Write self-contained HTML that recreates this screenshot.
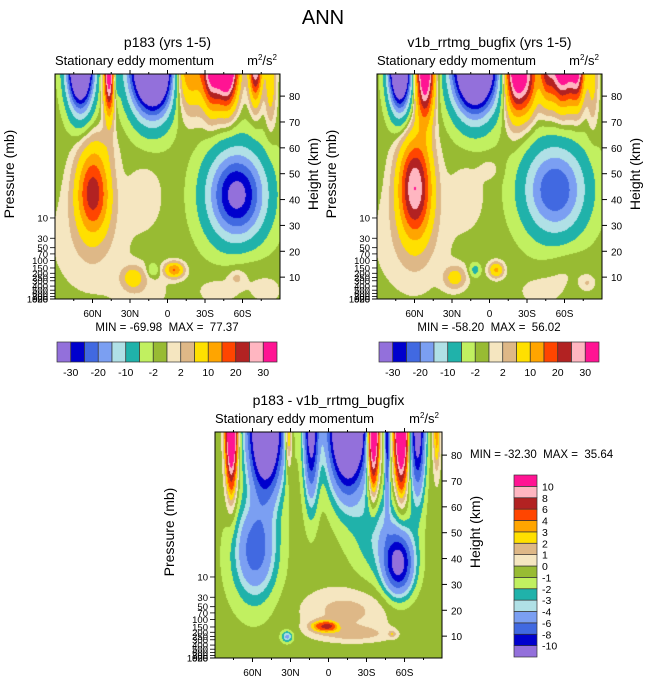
<!DOCTYPE html>
<html><head><meta charset="utf-8">
<style>
html,body{margin:0;padding:0;background:#fff;width:647px;height:683px;overflow:hidden}
#wrap{position:relative;width:647px;height:683px}
canvas{position:absolute}
svg{position:absolute;left:0;top:0}
text{font-family:"Liberation Sans",sans-serif;fill:#000;white-space:pre}
</style></head>
<body>
<div id="wrap">
<canvas id="c1" width="225" height="225" style="left:55px;top:74px"></canvas>
<canvas id="c2" width="225" height="225" style="left:377px;top:74px"></canvas>
<canvas id="c3" width="227" height="226" style="left:215px;top:432px"></canvas>
<svg id="ov" width="647" height="683"></svg>
</div>
<script>
// ---- data ----
const latTicks=[60,30,0,-30,-60];
const latTickLabels=["60N","30N","0","30S","60S"];
const hgtTicks=[10,20,30,40,50,60,70,80];
const presTicks=[10,30,50,70,100,150,200,250,300,400,500,600,700,850,925,1000];
const levelsTop=[-30,-25,-20,-15,-10,-5,-2,0,2,5,10,15,20,25,30];
const levelLabelsTop=["-30","-20","-10","-2","2","10","20","30"];
const levelsDiff=[-10,-8,-6,-4,-3,-2,-1,0,1,2,3,4,6,8,10];
const colors=["#9370db","#0000cd","#4169e1","#7b9ff2","#b0e0e6","#20b2aa","#c1f060","#98bb33","#f5e6c0","#deb887","#ffe000","#ffa500","#ff4500","#b22222","#ffb6c1","#ff1493"];
// panel 1 components (lat N+, height km, amplitude, sigma lat, sigma height)
const p1Lat=[70,47,42,12,-15,-35,-47,-70,-82,60,-55,62,18,-60,28,12,-5,-55,55,20,-40,-80];
const p1Hgt=[92,90,88,92,92,92,94,94,88,43,42,25,42,15,10,13,13,10,60,5,5,5];
const p1Amp=[-60,40,-10,-70,20,30,55,35,10,23,-32,2.5,2.2,1.5,8,-5,16,3,2.2,2,1.6,1.5];
const p1SLat=[7,3,2,12,11,5,6,3.5,3,9,16,22,10,12,6,3,5,4,10,15,15,10];
const p1SH=[11,11,6,12,11,11,11,10,12,11,12,15,9,6,3,1.8,2,2,6,6,5,5];
// panel 2 components
const p2Lat=[72,52,12,-20,-30,-45,-58,-70,-82,60,-52,62,18,-60,28,12,-5,-78,0,-40];
const p2Hgt=[92,92,92,92,88,92,94,92,88,45,44,25,42,15,10,13,13,8,52,5];
const p2Amp=[-60,45,-65,38,22,18,45,28,8,30,-24,2.5,2.2,1.5,8,-6,12,3,2,1.6];
const p2SLat=[6,5,12,6,6,4,7,4,3,9,17,22,10,12,6,3,4,4,6,15];
const p2SH=[11,13,12,12,10,10,11,10,12,13,12,15,9,6,3,1.8,2,2,3,5];
// difference panel components
const p3Lat=[77,50,32,14,-15,-35,-46,-57,-70,-85,58,-55,-42,-5,5,-20,0,33,-50,60,-30];
const p3Hgt=[92,92,90,92,92,92,90,94,90,88,44,38,50,20,14,11,14,10,11,40,20];
const p3Amp=[20,-20,6,-12,-22,20,-9,22,-12,4,-5,-10,-3,1.4,4.5,1.8,3,-4,2,-1.8,0.9];
const p3SLat=[3,9,2,4,10,3,1.5,3.5,4,2,10,8,15,20,7,20,4,3,2,15,20];
const p3SH=[15,17,10,18,16,15,18,16,16,10,11,8,12,6,1.5,2,1,1.5,1,15,6];
</script>
<script>
const NS="http://www.w3.org/2000/svg";
const ov=document.getElementById('ov');
function el(tag,attrs,txt){const e=document.createElementNS(NS,tag);for(const k in attrs)e.setAttribute(k,attrs[k]);if(txt!==undefined)e.textContent=txt;ov.appendChild(e);return e;}
const KM=2.586;
function field(lat,h,L,H,A,SL,SH,base){let v=base;for(let i=0;i<L.length;i++){const dx=(lat-L[i])/SL[i],dy=(h-H[i])/SH[i];v+=A[i]*Math.exp(-0.5*(dx*dx+dy*dy));}return v;}
function colorIdx(v,lev){let k=0;while(k<lev.length&&v>=lev[k])k++;return k;}
function hex(c){return [parseInt(c.substr(1,2),16),parseInt(c.substr(3,2),16),parseInt(c.substr(5,2),16)];}
const rgb=colors.map(hex);
function drawField(id,W,Hh,L,H,A,SL,SH,lev,pxDeg,base){
  const cv=document.getElementById(id),ctx=cv.getContext('2d');
  const img=ctx.createImageData(W,Hh);
  const cx=W/2;
  for(let y=0;y<Hh;y++){const h=(Hh+4-y)/KM;
    for(let x=0;x<W;x++){const lat=(cx-x)/pxDeg;
      const v=field(lat,h,L,H,A,SL,SH,base);
      const c=rgb[colorIdx(v,lev)];const o=(y*W+x)*4;
      img.data[o]=c[0];img.data[o+1]=c[1];img.data[o+2]=c[2];img.data[o+3]=255;}}
  ctx.putImageData(img,0,0);
}
function axes(x0,y0,W,Hh,pxDeg,title,name){
  const cx=x0+W/2;
  el('rect',{x:x0,y:y0,width:W,height:Hh,fill:'none',stroke:'#000','stroke-width':1,});
  latTicks.forEach((t,i)=>{const x=cx-t*pxDeg;
    el('line',{x1:x,y1:y0+Hh,x2:x,y2:y0+Hh+4,stroke:'#000'});
    el('line',{x1:x,y1:y0,x2:x,y2:y0-4,stroke:'#000'});
    const t2=el('text',{x:x,y:y0+Hh+18,'text-anchor':'middle','font-size':10},latTickLabels[i]);
    });
  [75,45,15,-15,-45,-75].forEach(t=>{const x=cx-t*pxDeg;el('line',{x1:x,y1:y0,x2:x,y2:y0-2,stroke:'#000'});el('line',{x1:x,y1:y0+Hh,x2:x,y2:y0+Hh+2,stroke:'#000'});});
  hgtTicks.forEach(h=>{const y=y0+Hh+4-h*KM;
    el('line',{x1:x0+W,y1:y,x2:x0+W+5,y2:y,stroke:'#000'});
    const t=el('text',{x:x0+W+9,y:y+4,'font-size':10},String(h));
    });
  presTicks.forEach(p=>{const h=7.14*Math.log(1000/p);let y=y0+Hh+4-h*KM;if(y>y0+Hh)y=y0+Hh;
    el('line',{x1:x0,y1:y,x2:x0-5,y2:y,stroke:'#000','stroke-width':0.8});
    const t=el('text',{x:x0-7,y:y+3.5,'text-anchor':'end','font-size':9.5},String(p));
    });
  const tt=el('text',{x:cx,y:y0-27,'text-anchor':'middle','font-size':14},title);
  
  const st=el('text',{x:x0,y:y0-9,'font-size':13},'Stationary eddy momentum');
  
  const un=el('text',{x:x0+W-3,y:y0-9,'text-anchor':'end','font-size':13});
  un.innerHTML='m<tspan dy="-5" font-size="8">2</tspan><tspan dy="5">/s</tspan><tspan dy="-5" font-size="8">2</tspan>';
  
  const pl=el('text',{x:0,y:0,'text-anchor':'middle','font-size':14,transform:`translate(${x0-41},${y0+100}) rotate(-90)`},'Pressure (mb)');
  
  const hl=el('text',{x:0,y:0,'text-anchor':'middle','font-size':14,transform:`translate(${x0+W+38},${y0+100}) rotate(-90)`},'Height (km)');
  
}
drawField('c1',225,225,p1Lat,p1Hgt,p1Amp,p1SLat,p1SH,levelsTop,1.25,-1);
drawField('c2',225,225,p2Lat,p2Hgt,p2Amp,p2SLat,p2SH,levelsTop,1.25,-1);
drawField('c3',227,226,p3Lat,p3Hgt,p3Amp,p3SLat,p3SH,levelsDiff,1.267,-0.5);
axes(55,74,225,225,1.25,'p183 (yrs 1-5)','panel-p183');
axes(377,74,225,225,1.25,'v1b_rrtmg_bugfix (yrs 1-5)','panel-v1b');
axes(215,432,227,226,1.267,'p183 - v1b_rrtmg_bugfix','panel-diff');
const ann=el('text',{x:323,y:24,'text-anchor':'middle','font-size':20},'ANN');

[[167,'MIN = -69.98  MAX =  77.37'],[489,'MIN = -58.20  MAX =  56.02']].forEach(([x,s])=>{
  const t=el('text',{x:x,y:331,'text-anchor':'middle','font-size':11.5},s);
  });
const mm=el('text',{x:470,y:458,'font-size':11.5},'MIN = -32.30  MAX =  35.64');

function hbar(x0,name){const w=220/16;
  colors.forEach((c,i)=>{const r=el('rect',{x:x0+i*w,y:342,width:w,height:20,fill:c,stroke:'#333','stroke-width':0.7});
    });
  levelLabelsTop.forEach((s,i)=>{const t=el('text',{x:x0+(1+2*i)*w,y:376,'text-anchor':'middle','font-size':10.5},s);
    });}
hbar(57,'colorbar-top-left');hbar(379,'colorbar-top-right');
{const h=182/16;
 colors.forEach((c,i)=>{const r=el('rect',{x:514,y:475+(15-i)*h,width:23,height:h,fill:c,stroke:'#333','stroke-width':0.7});
   });
 levelsDiff.forEach((v,i)=>{const t=el('text',{x:542,y:475+(15-i)*h+4,'font-size':10.5},String(v));
   });}
</script>
</body></html>
